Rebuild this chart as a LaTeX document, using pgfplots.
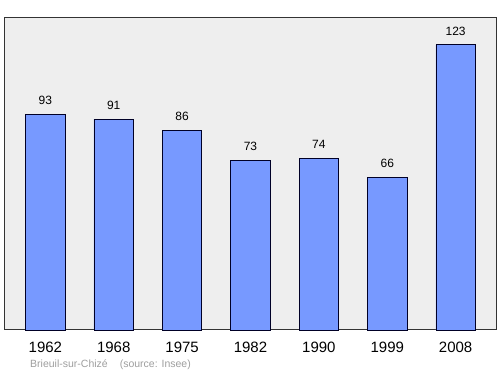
\documentclass[border=0pt]{standalone}
\usepackage{pgfplots}
\pgfplotsset{compat=1.18}
\usepackage{fontspec}
\setmainfont{Liberation Sans}
\definecolor{barfill}{RGB}{119,153,255}
\definecolor{bg}{RGB}{238,238,238}
\begin{document}
\begin{tikzpicture}[x=1pt,y=1pt]
\path (0,0) rectangle (500,374);
\begin{axis}[at={(5pt,44pt)}, anchor=south west, scale only axis,
  width=491pt, height=312pt,
  xmin=-0.59, xmax=6.59, ymin=0, ymax=134.6,
  /pgf/number format/assume math mode=true,
  axis background/.style={fill=bg},
  axis line style={draw=black!80, line width=1pt},
  ytick=\empty, xtick=data,
  xticklabels={1962,1968,1975,1982,1990,1999,2008},
  major tick length=0pt,
  xticklabel style={font=\fontsize{15}{18}\selectfont, yshift=-8pt},
  ybar, bar width=39.5pt,
  nodes near coords,
  nodes near coords style={font=\fontsize{12}{14}\selectfont, yshift=6pt, text=black},
  clip=false]
\addplot[fill=barfill, draw=black!85!blue, line width=0.8pt] coordinates {(0,93)(1,91)(2,86)(3,73)(4,74)(5,66)(6,123)};
\end{axis}
\node[anchor=base west, text=black!38, font=\fontsize{10.5}{12}\selectfont, inner sep=0pt] at (30,6) {Brieuil-sur-Chizé\hspace{12pt}(source: Insee)};
\end{tikzpicture}
\end{document}
